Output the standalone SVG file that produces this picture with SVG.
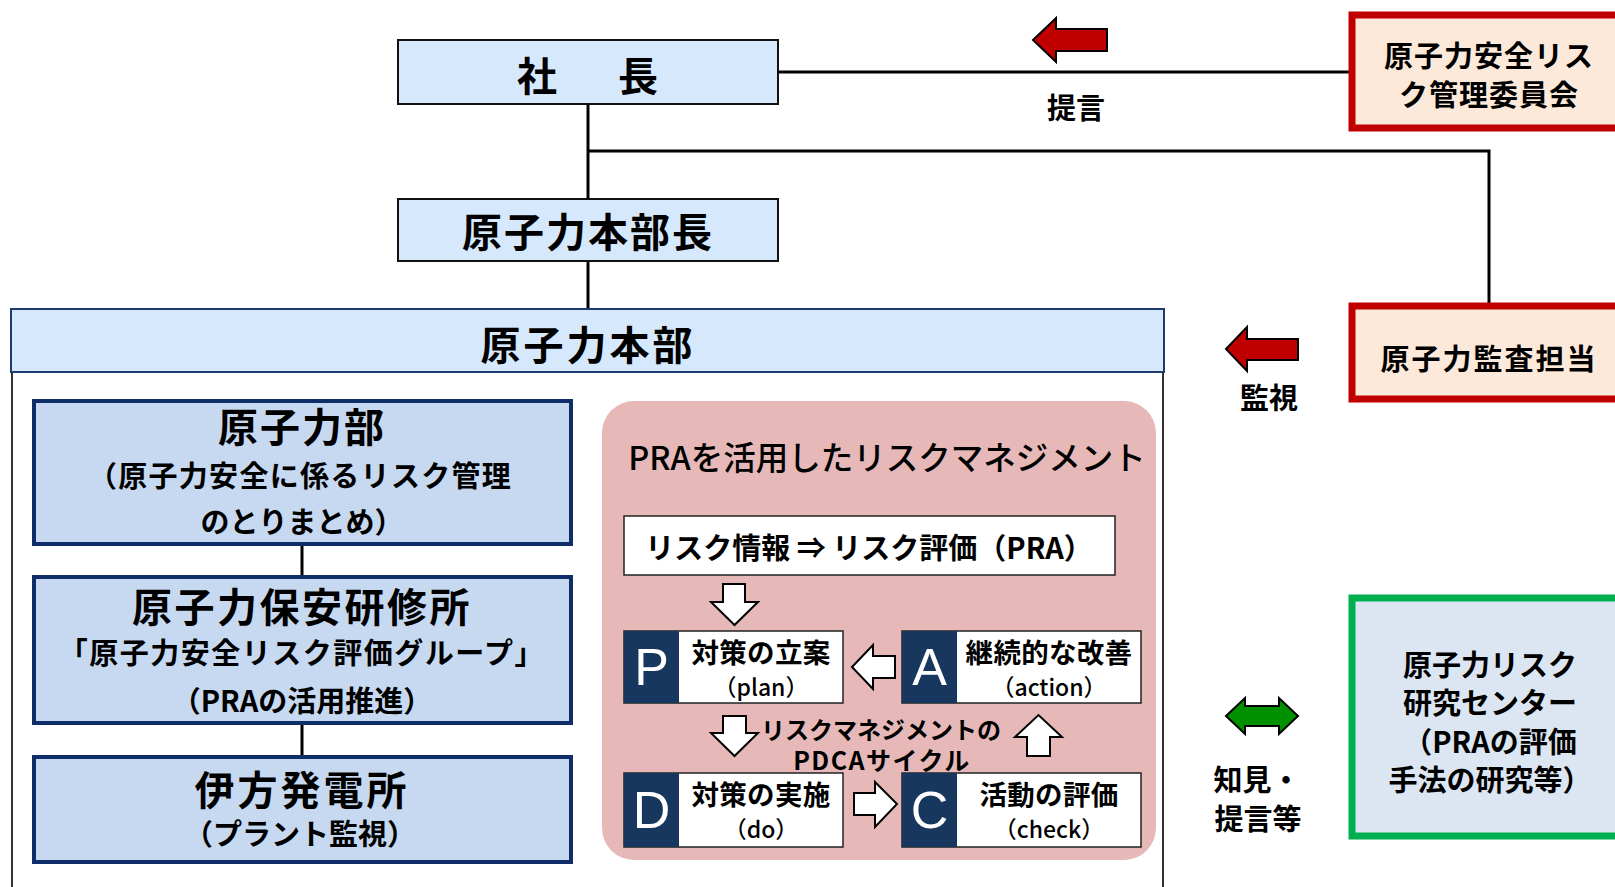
<svg xmlns="http://www.w3.org/2000/svg" width="1615" height="887" viewBox="0 0 1615 887">
<style>
text{font-family:"Noto Sans CJK JP","Noto Sans CJK SC",sans-serif;font-weight:700;fill:#000;dominant-baseline:central;text-anchor:middle}
.exec{fill:#D6E8FB;stroke:#111;stroke-width:2}
.dept{fill:#C6D9F1;stroke:#0F2D69;stroke-width:4}
.red{fill:#FDE9D9;stroke:#C00000;stroke-width:7}
.green{fill:#DCE6F2;stroke:#00B050;stroke-width:7}
.line{stroke:#000;stroke-width:3;fill:none}
.frame{stroke:#333;stroke-width:2;fill:none}
.wbox{fill:#fff;stroke:#222;stroke-width:1.5}
.navy{fill:#17375E}
.letter{font-family:"Liberation Sans",Arial,sans-serif;font-weight:400;fill:#fff;font-size:52px}
.warrow{fill:#fff;stroke:#000;stroke-width:2;stroke-linejoin:miter}
.rarrow{fill:#C00000;stroke:#000;stroke-width:2}
.garrow{fill:#009000;stroke:#000;stroke-width:2}
.big{font-size:40px}
.mid{font-size:29px}
.sm{font-size:27.5px;letter-spacing:0.3px}
.xs{font-size:23px;font-weight:500}
.title{font-size:32.5px;font-weight:500}
</style>

<g id="connectors">
<line class="line" x1="588" y1="104" x2="588" y2="199"/>
<line class="line" x1="588" y1="261" x2="588" y2="309"/>
<line class="line" x1="778" y1="72" x2="1352" y2="72"/>
<polyline class="line" points="588,151 1489,151 1489,306"/>
<line class="line" x1="302" y1="544" x2="302" y2="577"/>
<line class="line" x1="302" y1="723" x2="302" y2="757"/>
</g>

<g id="president">
<rect class="exec" x="398" y="40" width="380" height="64"/>
<text class="big" y="74"><tspan x="537">社</tspan><tspan x="638">長</tspan></text>
</g>

<g id="division-head">
<rect class="exec" x="398" y="199" width="380" height="62"/>
<text class="big" x="588" y="230" letter-spacing="2">原子力本部長</text>
</g>

<g id="nuclear-division">
<path class="frame" d="M12,372 V887 M1163,372 V887"/>
<rect x="11" y="309" width="1153" height="63" fill="#D6E8FB" stroke="#1F3A6E" stroke-width="2"/>
<text class="big" x="588" y="343" letter-spacing="3">原子力本部</text>
</g>

<g id="nuclear-dept">
<rect class="dept" x="34" y="401" width="537" height="143"/>
<text class="big" x="302" y="425" letter-spacing="2">原子力部</text>
<text class="mid" x="300" y="474" letter-spacing="1.3">（原子力安全に係るリスク管理</text>
<text class="mid" x="302" y="520">のとりまとめ）</text>
</g>

<g id="training-center">
<rect class="dept" x="34" y="577" width="537" height="146"/>
<text class="big" x="302" y="605" letter-spacing="2.5">原子力保安研修所</text>
<text class="mid" x="302" y="651" letter-spacing="1.5">「原子力安全リスク評価グループ」</text>
<text class="mid" x="302" y="699">（PRAの活用推進）</text>
</g>

<g id="ikata">
<rect class="dept" x="34" y="757" width="537" height="105"/>
<text class="big" x="302" y="788" letter-spacing="3">伊方発電所</text>
<text class="mid" x="300" y="832">（プラント監視）</text>
</g>

<g id="pra-risk-management">
<rect x="602" y="401" width="554" height="459" rx="32" fill="#E6B9B8"/>
<text class="title" x="887" y="455">PRAを活用したリスクマネジメント</text>
<rect class="wbox" x="624" y="516" width="491" height="59"/>
<text x="869" y="546" font-size="29">リスク情報 ⇒ リスク評価（PRA）</text>
<polygon class="warrow" points="723,584 745,584 745,602 758,602 734.5,625 711,602 723,602"/>
<polygon class="warrow" points="723,716 746,716 746,733 758,733 734.5,756 711,733 723,733"/>
<polygon class="warrow" points="1027,756 1050,756 1050,737 1062,737 1038.5,715 1015,737 1027,737"/>
<polygon class="warrow" points="852,667 873,645 873,656 895,656 895,678 873,678 873,689"/>
<polygon class="warrow" points="854,793 875,793 875,782 897,804 875,827 875,815 854,815"/>
<text x="881" y="728" font-size="24">リスクマネジメントの</text>
<text x="882" y="759" font-size="25" letter-spacing="1.5">PDCAサイクル</text>
</g>

<g id="pdca-plan">
<rect class="wbox" x="624" y="631" width="219" height="72"/>
<rect class="navy" x="624" y="631" width="55" height="72"/>
<text class="letter" x="651.5" y="667">P</text>
<text class="sm" x="761" y="651">対策の立案</text>
<text class="xs" x="761" y="686">（plan）</text>
</g>

<g id="pdca-action">
<rect class="wbox" x="902" y="631" width="239" height="72"/>
<rect class="navy" x="902" y="631" width="55" height="72"/>
<text class="letter" x="929.5" y="667">A</text>
<text class="sm" x="1049" y="651">継続的な改善</text>
<text class="xs" x="1049" y="686">（action）</text>
</g>

<g id="pdca-do">
<rect class="wbox" x="624" y="773" width="219" height="74"/>
<rect class="navy" x="624" y="773" width="55" height="74"/>
<text class="letter" x="651.5" y="810">D</text>
<text class="sm" x="761" y="793">対策の実施</text>
<text class="xs" x="761" y="828">（do）</text>
</g>

<g id="pdca-check">
<rect class="wbox" x="902" y="773" width="239" height="74"/>
<rect class="navy" x="902" y="773" width="55" height="74"/>
<text class="letter" x="929.5" y="810">C</text>
<text class="sm" x="1049" y="793">活動の評価</text>
<text class="xs" x="1049" y="828">（check）</text>
</g>

<g id="risk-committee">
<rect class="red" x="1352" y="15" width="280" height="113"/>
<text class="mid" x="1489" y="54" letter-spacing="1">原子力安全リス</text>
<text class="mid" x="1489" y="93" letter-spacing="1">ク管理委員会</text>
<polygon class="rarrow" points="1033,40 1056,18 1056,29 1107,29 1107,51 1056,51 1056,62"/>
<text class="mid" x="1076" y="106">提言</text>
</g>

<g id="audit">
<rect class="red" x="1352" y="306" width="280" height="93"/>
<text class="mid" x="1489" y="357" letter-spacing="2">原子力監査担当</text>
<polygon class="rarrow" points="1226,349 1247,327 1247,339 1298,339 1298,360 1247,360 1247,371"/>
<text class="mid" x="1269" y="396">監視</text>
</g>

<g id="research-center">
<rect class="green" x="1352" y="598" width="280" height="238"/>
<text class="mid" x="1490" y="663">原子力リスク</text>
<text class="mid" x="1490" y="701">研究センター</text>
<text class="mid" x="1490" y="740">（PRAの評価</text>
<text class="mid" x="1490" y="778">手法の研究等）</text>
<polygon class="garrow" points="1226,716 1245,698 1245,706 1279,706 1279,698 1298,716 1279,734 1279,726 1245,726 1245,734"/>
<text class="mid" x="1257" y="778">知見・</text>
<text class="mid" x="1258" y="817">提言等</text>
</g>
</svg>
